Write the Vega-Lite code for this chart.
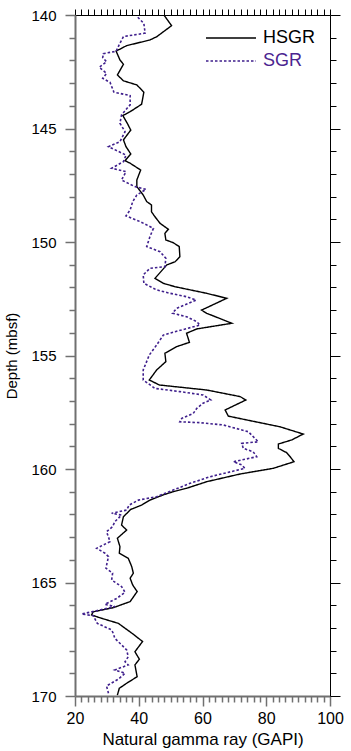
{
  "$schema": "https://vega.github.io/schema/vega-lite/v6.json",
  "autosize": {"type": "none"},
  "padding": {"left": 75, "top": 15, "right": 21, "bottom": 55},
  "width": 255,
  "height": 681,
  "background": "white",
  "config": {"view": {"stroke": null}, "font": "Liberation Sans"},
  "datasets": {
    "hsgr": [
      {"series":"HSGR","depth":140.0,"gr":47.9},{"series":"HSGR","depth":140.47,"gr":50.3},{"series":"HSGR","depth":140.96,"gr":45.6},{"series":"HSGR","depth":141.1,"gr":43.5},{"series":"HSGR","depth":141.35,"gr":36.2},{"series":"HSGR","depth":141.59,"gr":32.9},{"series":"HSGR","depth":141.98,"gr":34.1},{"series":"HSGR","depth":142.17,"gr":35.2},{"series":"HSGR","depth":142.64,"gr":33.3},{"series":"HSGR","depth":142.9,"gr":35.2},{"series":"HSGR","depth":143.08,"gr":39.4},{"series":"HSGR","depth":143.4,"gr":41.6},{"series":"HSGR","depth":143.93,"gr":40.9},{"series":"HSGR","depth":144.26,"gr":37.3},{"series":"HSGR","depth":144.43,"gr":35.0},{"series":"HSGR","depth":144.77,"gr":36.4},{"series":"HSGR","depth":145.07,"gr":37.5},{"series":"HSGR","depth":145.5,"gr":35.2},{"series":"HSGR","depth":145.8,"gr":36.0},{"series":"HSGR","depth":146.12,"gr":37.5},{"series":"HSGR","depth":146.42,"gr":35.7},{"series":"HSGR","depth":146.53,"gr":37.3},{"series":"HSGR","depth":146.83,"gr":40.6},{"series":"HSGR","depth":147.27,"gr":39.4},{"series":"HSGR","depth":147.56,"gr":39.4},{"series":"HSGR","depth":147.93,"gr":41.4},{"series":"HSGR","depth":148.22,"gr":42.5},{"series":"HSGR","depth":148.37,"gr":44.0},{"series":"HSGR","depth":148.67,"gr":44.0},{"series":"HSGR","depth":148.89,"gr":45.1},{"series":"HSGR","depth":149.18,"gr":46.7},{"series":"HSGR","depth":149.44,"gr":49.3},{"series":"HSGR","depth":149.62,"gr":48.2},{"series":"HSGR","depth":149.91,"gr":48.5},{"series":"HSGR","depth":150.03,"gr":50.8},{"series":"HSGR","depth":150.2,"gr":52.7},{"series":"HSGR","depth":150.65,"gr":52.9},{"series":"HSGR","depth":150.87,"gr":51.4},{"series":"HSGR","depth":151.01,"gr":48.8},{"series":"HSGR","depth":151.6,"gr":45.1},{"series":"HSGR","depth":151.82,"gr":47.7},{"series":"HSGR","depth":151.97,"gr":51.4},{"series":"HSGR","depth":152.26,"gr":61.3},{"series":"HSGR","depth":152.48,"gr":67.6},{"series":"HSGR","depth":153.0,"gr":59.7},{"series":"HSGR","depth":153.14,"gr":61.3},{"series":"HSGR","depth":153.58,"gr":69.2},{"series":"HSGR","depth":153.83,"gr":58.2},{"series":"HSGR","depth":154.02,"gr":55.0},{"series":"HSGR","depth":154.42,"gr":55.9},{"series":"HSGR","depth":154.61,"gr":51.9},{"series":"HSGR","depth":154.9,"gr":48.2},{"series":"HSGR","depth":155.27,"gr":48.5},{"series":"HSGR","depth":155.64,"gr":45.6},{"series":"HSGR","depth":156.08,"gr":43.3},{"series":"HSGR","depth":156.3,"gr":46.5},{"series":"HSGR","depth":156.52,"gr":61.3},{"series":"HSGR","depth":156.81,"gr":71.8},{"series":"HSGR","depth":156.96,"gr":73.6},{"series":"HSGR","depth":157.4,"gr":67.1},{"series":"HSGR","depth":157.67,"gr":68.1},{"series":"HSGR","depth":157.84,"gr":73.9},{"series":"HSGR","depth":158.14,"gr":84.3},{"series":"HSGR","depth":158.46,"gr":91.6},{"series":"HSGR","depth":158.72,"gr":88.0},{"series":"HSGR","depth":158.9,"gr":83.8},{"series":"HSGR","depth":159.09,"gr":83.8},{"series":"HSGR","depth":159.28,"gr":86.4},{"series":"HSGR","depth":159.46,"gr":87.5},{"series":"HSGR","depth":159.68,"gr":88.7},{"series":"HSGR","depth":159.97,"gr":82.2},{"series":"HSGR","depth":160.22,"gr":71.8},{"series":"HSGR","depth":160.56,"gr":61.3},{"series":"HSGR","depth":160.85,"gr":55.0},{"series":"HSGR","depth":161.0,"gr":50.8},{"series":"HSGR","depth":161.14,"gr":47.7},{"series":"HSGR","depth":161.37,"gr":43.5},{"series":"HSGR","depth":161.59,"gr":40.9},{"series":"HSGR","depth":161.78,"gr":37.5},{"series":"HSGR","depth":162.1,"gr":35.2},{"series":"HSGR","depth":162.47,"gr":34.6},{"series":"HSGR","depth":162.69,"gr":36.2},{"series":"HSGR","depth":163.05,"gr":33.3},{"series":"HSGR","depth":163.42,"gr":34.1},{"series":"HSGR","depth":163.71,"gr":33.9},{"series":"HSGR","depth":163.93,"gr":36.7},{"series":"HSGR","depth":164.3,"gr":37.8},{"series":"HSGR","depth":164.59,"gr":38.3},{"series":"HSGR","depth":164.81,"gr":37.3},{"series":"HSGR","depth":165.11,"gr":38.1},{"series":"HSGR","depth":165.4,"gr":39.5},{"series":"HSGR","depth":165.84,"gr":37.3},{"series":"HSGR","depth":166.11,"gr":32.0},{"series":"HSGR","depth":166.29,"gr":25.7},{"series":"HSGR","depth":166.43,"gr":25.2},{"series":"HSGR","depth":166.58,"gr":28.4},{"series":"HSGR","depth":166.8,"gr":33.6},{"series":"HSGR","depth":167.28,"gr":38.3},{"series":"HSGR","depth":167.6,"gr":41.2},{"series":"HSGR","depth":168.05,"gr":38.8},{"series":"HSGR","depth":168.38,"gr":40.2},{"series":"HSGR","depth":168.63,"gr":38.8},{"series":"HSGR","depth":169.15,"gr":39.5},{"series":"HSGR","depth":169.44,"gr":36.2},{"series":"HSGR","depth":169.66,"gr":33.9},{"series":"HSGR","depth":169.96,"gr":33.3}
    ],
    "sgr": [
      {"series":"SGR","depth":140.1,"gr":39.7},{"series":"SGR","depth":140.37,"gr":41.6},{"series":"SGR","depth":140.8,"gr":42.0},{"series":"SGR","depth":140.95,"gr":35.2},{"series":"SGR","depth":141.3,"gr":33.9},{"series":"SGR","depth":141.6,"gr":32.9},{"series":"SGR","depth":141.7,"gr":28.9},{"series":"SGR","depth":141.88,"gr":28.7},{"series":"SGR","depth":142.06,"gr":29.9},{"series":"SGR","depth":142.3,"gr":27.6},{"series":"SGR","depth":142.57,"gr":29.9},{"series":"SGR","depth":142.79,"gr":28.7},{"series":"SGR","depth":142.97,"gr":31.0},{"series":"SGR","depth":143.4,"gr":32.2},{"series":"SGR","depth":143.55,"gr":37.3},{"series":"SGR","depth":143.96,"gr":37.3},{"series":"SGR","depth":144.1,"gr":36.4},{"series":"SGR","depth":144.4,"gr":34.6},{"series":"SGR","depth":144.77,"gr":34.1},{"series":"SGR","depth":145.14,"gr":35.7},{"series":"SGR","depth":145.58,"gr":34.1},{"series":"SGR","depth":145.8,"gr":30.5},{"series":"SGR","depth":146.17,"gr":36.0},{"series":"SGR","depth":146.46,"gr":35.2},{"series":"SGR","depth":146.75,"gr":31.5},{"series":"SGR","depth":146.9,"gr":36.0},{"series":"SGR","depth":147.27,"gr":34.6},{"series":"SGR","depth":147.56,"gr":38.8},{"series":"SGR","depth":147.68,"gr":42.3},{"series":"SGR","depth":147.93,"gr":39.4},{"series":"SGR","depth":148.22,"gr":38.1},{"series":"SGR","depth":148.59,"gr":37.3},{"series":"SGR","depth":148.85,"gr":36.0},{"series":"SGR","depth":149.1,"gr":40.4},{"series":"SGR","depth":149.4,"gr":44.6},{"series":"SGR","depth":149.77,"gr":43.5},{"series":"SGR","depth":150.2,"gr":42.5},{"series":"SGR","depth":150.43,"gr":46.7},{"series":"SGR","depth":150.72,"gr":48.5},{"series":"SGR","depth":151.09,"gr":48.2},{"series":"SGR","depth":151.16,"gr":43.5},{"series":"SGR","depth":151.45,"gr":41.4},{"series":"SGR","depth":151.82,"gr":41.6},{"series":"SGR","depth":152.11,"gr":45.6},{"series":"SGR","depth":152.26,"gr":49.8},{"series":"SGR","depth":152.41,"gr":55.0},{"series":"SGR","depth":152.56,"gr":58.0},{"series":"SGR","depth":152.92,"gr":51.9},{"series":"SGR","depth":153.14,"gr":50.6},{"series":"SGR","depth":153.29,"gr":55.0},{"series":"SGR","depth":153.51,"gr":58.2},{"series":"SGR","depth":153.66,"gr":59.2},{"series":"SGR","depth":153.95,"gr":51.4},{"series":"SGR","depth":154.1,"gr":47.7},{"series":"SGR","depth":154.54,"gr":45.6},{"series":"SGR","depth":154.98,"gr":43.3},{"series":"SGR","depth":155.64,"gr":41.4},{"series":"SGR","depth":156.08,"gr":41.4},{"series":"SGR","depth":156.45,"gr":45.1},{"series":"SGR","depth":156.59,"gr":52.9},{"series":"SGR","depth":156.74,"gr":60.2},{"series":"SGR","depth":156.96,"gr":62.6},{"series":"SGR","depth":157.1,"gr":60.2},{"series":"SGR","depth":157.33,"gr":58.2},{"series":"SGR","depth":157.55,"gr":57.1},{"series":"SGR","depth":157.77,"gr":53.5},{"series":"SGR","depth":157.92,"gr":52.9},{"series":"SGR","depth":157.96,"gr":59.2},{"series":"SGR","depth":158.06,"gr":66.5},{"series":"SGR","depth":158.36,"gr":74.4},{"series":"SGR","depth":158.8,"gr":77.5},{"series":"SGR","depth":158.87,"gr":72.3},{"series":"SGR","depth":159.09,"gr":72.8},{"series":"SGR","depth":159.24,"gr":75.9},{"series":"SGR","depth":159.46,"gr":77.0},{"series":"SGR","depth":159.68,"gr":69.7},{"series":"SGR","depth":159.82,"gr":72.3},{"series":"SGR","depth":159.97,"gr":73.3},{"series":"SGR","depth":160.34,"gr":62.4},{"series":"SGR","depth":160.63,"gr":56.1},{"series":"SGR","depth":160.93,"gr":50.8},{"series":"SGR","depth":161.22,"gr":45.6},{"series":"SGR","depth":161.37,"gr":39.9},{"series":"SGR","depth":161.59,"gr":37.0},{"series":"SGR","depth":161.81,"gr":36.2},{"series":"SGR","depth":161.95,"gr":31.5},{"series":"SGR","depth":162.03,"gr":34.6},{"series":"SGR","depth":162.32,"gr":32.5},{"series":"SGR","depth":162.54,"gr":31.8},{"series":"SGR","depth":162.76,"gr":29.9},{"series":"SGR","depth":163.2,"gr":31.0},{"series":"SGR","depth":163.49,"gr":26.8},{"series":"SGR","depth":163.71,"gr":29.4},{"series":"SGR","depth":163.86,"gr":30.5},{"series":"SGR","depth":164.37,"gr":29.7},{"series":"SGR","depth":164.59,"gr":31.8},{"series":"SGR","depth":164.89,"gr":31.5},{"series":"SGR","depth":165.18,"gr":34.6},{"series":"SGR","depth":165.43,"gr":35.7},{"series":"SGR","depth":165.7,"gr":33.1},{"series":"SGR","depth":165.96,"gr":29.4},{"series":"SGR","depth":166.06,"gr":32.5},{"series":"SGR","depth":166.39,"gr":22.1},{"series":"SGR","depth":166.46,"gr":25.7},{"series":"SGR","depth":166.8,"gr":27.0},{"series":"SGR","depth":167.09,"gr":31.5},{"series":"SGR","depth":167.24,"gr":32.0},{"series":"SGR","depth":167.46,"gr":32.5},{"series":"SGR","depth":167.97,"gr":36.2},{"series":"SGR","depth":168.27,"gr":36.7},{"series":"SGR","depth":168.49,"gr":35.7},{"series":"SGR","depth":168.63,"gr":36.7},{"series":"SGR","depth":168.85,"gr":32.5},{"series":"SGR","depth":169.0,"gr":35.7},{"series":"SGR","depth":169.26,"gr":33.6},{"series":"SGR","depth":169.56,"gr":29.9},{"series":"SGR","depth":169.88,"gr":30.5}
    ]
  },
  "resolve": {"axis": {"x": "independent", "y": "independent"}},
  "layer": [
    {
      "data": {"name": "hsgr"},
      "mark": {"type": "line", "strokeWidth": 1.4, "clip": true},
      "encoding": {
        "x": {
          "field": "gr", "type": "quantitative",
          "scale": {"domain": [20, 100], "nice": false, "zero": false},
          "axis": {
            "orient": "bottom",
            "title": "Natural gamma ray (GAPI)",
            "values": [20,22,24,26,28,30,32,34,36,38,40,42,44,46,48,50,52,54,56,58,60,62,64,66,68,70,72,74,76,78,80,82,84,86,88,90,92,94,96,98,100],
            "labelExpr": "datum.value % 20 === 0 ? datum.label : ''",
            "labelOverlap": false, "labelFlush": false, "labelBound": false,
            "grid": false,
            "tickSize": {"condition": {"test": "datum.value % 20 === 0", "value": 10}, "value": 6},
            "domainColor": "#707070", "domainWidth": 2,
            "tickColor": "#707070", "tickWidth": 1.5,
            "labelFontSize": 16, "labelColor": "#000000", "labelPadding": 4,
            "titleFontSize": 17, "titleColor": "#000000", "titleFontWeight": "normal", "titlePadding": 5
          }
        },
        "y": {
          "field": "depth", "type": "quantitative",
          "scale": {"domain": [140, 170], "reverse": true, "nice": false, "zero": false},
          "axis": {
            "orient": "left",
            "title": "Depth (mbsf)",
            "values": [140,141,142,143,144,145,146,147,148,149,150,151,152,153,154,155,156,157,158,159,160,161,162,163,164,165,166,167,168,169,170],
            "labelExpr": "datum.value % 5 === 0 ? datum.label : ''",
            "labelOverlap": false, "labelFlush": false, "labelBound": false,
            "grid": false,
            "tickSize": {"condition": {"test": "datum.value % 5 === 0", "value": 10}, "value": 6},
            "domainColor": "#707070", "domainWidth": 2,
            "tickColor": "#707070", "tickWidth": 1.5,
            "labelFontSize": 15, "labelColor": "#000000", "labelPadding": 9,
            "titleFontSize": 15, "titleColor": "#000000", "titleFontWeight": "normal", "titlePadding": 11
          }
        },
        "order": {"field": "depth", "type": "quantitative"},
        "color": {
          "field": "series", "type": "nominal",
          "scale": {"domain": ["HSGR", "SGR"], "range": ["#000000", "#3f1f8c"]},
          "legend": {
            "orient": "none", "legendX": 167, "legendY": 14,
            "title": null,
            "symbolType": "M-9,0H1", "symbolSize": 100, "symbolStrokeWidth": 1.3,
            "labelFontSize": 18, "labelOffset": 3, "rowPadding": 5,
            "encode": {"labels": {"update": {"fill": {"signal": "datum.value === 'SGR' ? '#4b2590' : '#000000'"}}}}
          }
        },
        "strokeDash": {
          "field": "series", "type": "nominal",
          "scale": {"domain": ["HSGR", "SGR"], "range": [[1, 0], [2.5, 2]]}
        }
      }
    },
    {
      "data": {"name": "sgr"},
      "mark": {"type": "line", "strokeWidth": 1.6, "clip": true},
      "encoding": {
        "x": {
          "field": "gr", "type": "quantitative",
          "axis": {
            "orient": "top", "title": null, "labels": false, "grid": false,
            "values": [20,22,24,26,28,30,32,34,36,38,40,42,44,46,48,50,52,54,56,58,60,62,64,66,68,70,72,74,76,78,80,82,84,86,88,90,92,94,96,98,100],
            "tickSize": 6, "domainColor": "#000000", "domainWidth": 1, "tickColor": "#000000", "tickWidth": 1
          }
        },
        "y": {
          "field": "depth", "type": "quantitative",
          "axis": {
            "orient": "right", "title": null, "labels": false, "grid": false,
            "values": [140,141,142,143,144,145,146,147,148,149,150,151,152,153,154,155,156,157,158,159,160,161,162,163,164,165,166,167,168,169,170],
            "tickSize": {"condition": {"test": "datum.value % 5 === 0", "value": 10}, "value": 6},
            "domainColor": "#000000", "domainWidth": 1, "tickColor": "#000000", "tickWidth": 1
          }
        },
        "order": {"field": "depth", "type": "quantitative"},
        "color": {"field": "series", "type": "nominal"},
        "strokeDash": {"field": "series", "type": "nominal"}
      }
    }
  ]
}
